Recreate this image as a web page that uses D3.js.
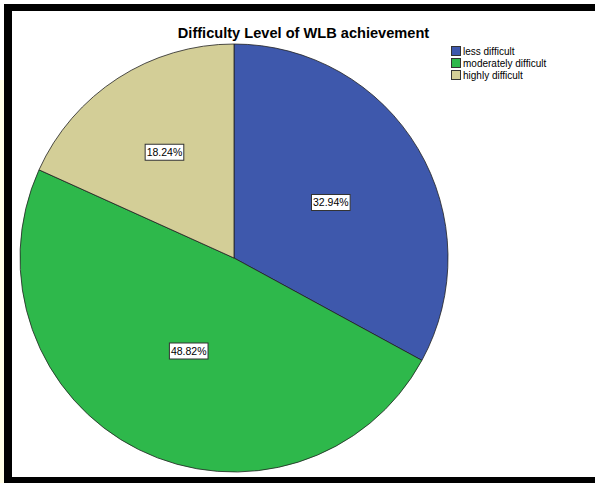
<!DOCTYPE html>
<html>
<head>
<meta charset="utf-8">
<script src="https://cdn.jsdelivr.net/npm/d3@7"></script>
<style>
  html, body { margin: 0; padding: 0; background: #ffffff; }
  svg { display: block; }
</style>
</head>
<body>
<svg id="chart" width="595" height="483"></svg>
<script>
// ---- data ----
const categories = ["less difficult", "moderately difficult", "highly difficult"];
const percentages = [32.94, 48.82, 18.24];
const colors = ["#3e58ac", "#2eb84b", "#d3ce97"];
const chartTitle = "Difficulty Level of WLB achievement";

const W = 595, H = 483;
const svg = d3.select("#chart");
const font = "Arial, 'Liberation Sans', Helvetica, sans-serif";

// frame
svg.append("rect").attr("x", 0).attr("y", 80).attr("width", 4).attr("height", H - 80).attr("fill", "#fffde6");
svg.append("rect").attr("x", 4).attr("y", 4).attr("width", W - 4).attr("height", 7).attr("fill", "#000");
svg.append("rect").attr("x", 4).attr("y", 4).attr("width", 8).attr("height", H - 4).attr("fill", "#000");
svg.append("rect").attr("x", 4).attr("y", 477).attr("width", W - 4).attr("height", 6).attr("fill", "#000");

// title
svg.append("text")
  .attr("x", (12 + W) / 2).attr("y", 37.5)
  .attr("text-anchor", "middle")
  .attr("font-family", font).attr("font-weight", "bold").attr("font-size", 14.6)
  .attr("fill", "#000")
  .text(chartTitle);

// pie
const cx = 234, cy = 258, R = 214;
const pie = d3.pie().sort(null).value(d => d.value);
const data = categories.map((c, i) => ({ name: c, value: percentages[i], color: colors[i] }));
const arcs = pie(data);
const arc = d3.arc().innerRadius(0).outerRadius(R);

const g = svg.append("g").attr("transform", `translate(${cx},${cy})`);
g.selectAll("path.slice").data(arcs).enter().append("path")
  .attr("class", "slice")
  .attr("d", arc)
  .attr("fill", d => d.data.color)
  .attr("stroke", "#222")
  .attr("stroke-width", 0.8);

// labels
arcs.forEach(d => {
  const half = (d.endAngle - d.startAngle) / 2;
  const geo = 2 * R * Math.sin(half) / (3 * half);
  const rl = Math.max(0.5 * R, geo) * 0.95;
  const a = (d.startAngle + d.endAngle) / 2;
  const x = rl * Math.sin(a), y = -rl * Math.cos(a);
  const lg = g.append("g").attr("transform", `translate(${x},${y + 2})`);
  const t = lg.append("text")
    .attr("text-anchor", "middle").attr("dy", "0.35em")
    .attr("font-family", font).attr("font-size", 10.5).attr("fill", "#000")
    .text(d.data.value.toFixed(2) + "%");
  const bb = t.node().getBBox();
  lg.insert("rect", "text")
    .attr("x", bb.x - 1.5).attr("y", -8)
    .attr("width", bb.width + 3).attr("height", 16)
    .attr("fill", "#fff").attr("stroke", "#333").attr("stroke-width", 1);
});

// legend
const lg = svg.append("g").attr("transform", "translate(451,46)");
categories.forEach((c, i) => {
  const row = lg.append("g").attr("transform", `translate(0,${i * 12})`);
  row.append("rect").attr("x", 0.5).attr("y", 0.5).attr("width", 9).attr("height", 9)
    .attr("fill", colors[i]).attr("stroke", "#333").attr("stroke-width", 1);
  row.append("text").attr("x", 12).attr("y", 8.5)
    .attr("font-family", font).attr("font-size", 10).attr("fill", "#000")
    .text(c);
});
</script>
</body>
</html>
